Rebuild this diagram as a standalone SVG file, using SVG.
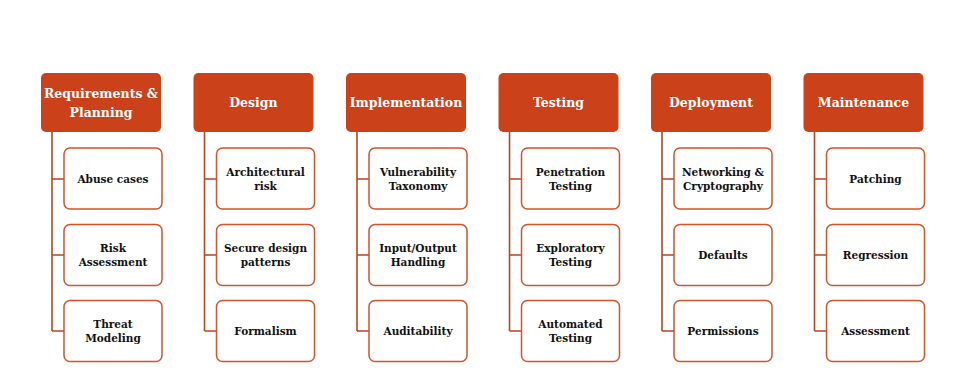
<svg xmlns="http://www.w3.org/2000/svg" width="980" height="391" viewBox="0 0 980 391">
  <defs>
    <style>
      .hdr { fill: #CB4119; }
      .hdr-t { fill: #FFFFFF; font-family: "DejaVu Serif", "Liberation Serif", serif; font-size: 12.5px; font-weight: bold; text-anchor: middle; }
      .item { fill: #FFFFFF; stroke: #D4532A; stroke-width: 1.5; }
      .item-t { fill: #111111; font-family: "DejaVu Serif", "Liberation Serif", serif; font-size: 10.5px; font-weight: bold; text-anchor: middle; }
      .wire { fill: none; stroke: #B94420; stroke-width: 1.6; }
    </style>
  </defs>
  <rect width="980" height="391" fill="#FFFFFF"/>

  <!-- connectors: spine down from each header, with a tick into each item -->
  <g id="connectors">
    <path class="wire" d="M52 132 V331 M52 179 H64 M52 255 H64 M52 331 H64"/>
    <path class="wire" d="M204.5 132 V331 M204.5 179 H216.5 M204.5 255 H216.5 M204.5 331 H216.5"/>
    <path class="wire" d="M357 132 V331 M357 179 H369 M357 255 H369 M357 331 H369"/>
    <path class="wire" d="M509.5 132 V331 M509.5 179 H521.5 M509.5 255 H521.5 M509.5 331 H521.5"/>
    <path class="wire" d="M662 132 V331 M662 179 H674 M662 255 H674 M662 331 H674"/>
    <path class="wire" d="M814.5 132 V331 M814.5 179 H826.5 M814.5 255 H826.5 M814.5 331 H826.5"/>
  </g>

  <!-- phase headers -->
  <g id="h-req"><rect class="hdr" x="41" y="73" width="120" height="59" rx="5"/>
    <text class="hdr-t" x="101" y="98">Requirements &amp;</text><text class="hdr-t" x="101" y="117">Planning</text></g>
  <g id="h-design"><rect class="hdr" x="193.5" y="73" width="120" height="59" rx="5"/>
    <text class="hdr-t" x="253.5" y="107">Design</text></g>
  <g id="h-impl"><rect class="hdr" x="346" y="73" width="120" height="59" rx="5"/>
    <text class="hdr-t" x="406" y="107">Implementation</text></g>
  <g id="h-test"><rect class="hdr" x="498.5" y="73" width="120" height="59" rx="5"/>
    <text class="hdr-t" x="558.5" y="107">Testing</text></g>
  <g id="h-deploy"><rect class="hdr" x="651" y="73" width="120" height="59" rx="5"/>
    <text class="hdr-t" x="711" y="107">Deployment</text></g>
  <g id="h-maint"><rect class="hdr" x="803.5" y="73" width="120" height="59" rx="5"/>
    <text class="hdr-t" x="863.5" y="107">Maintenance</text></g>

  <!-- Requirements & Planning items -->
  <g id="i-abuse"><rect class="item" x="64" y="148" width="98" height="61" rx="6"/>
    <text class="item-t" x="113" y="183">Abuse cases</text></g>
  <g id="i-risk"><rect class="item" x="64" y="224.5" width="98" height="61" rx="6"/>
    <text class="item-t" x="113" y="252">Risk</text><text class="item-t" x="113" y="266">Assessment</text></g>
  <g id="i-threat"><rect class="item" x="64" y="300.5" width="98" height="61" rx="6"/>
    <text class="item-t" x="113" y="328">Threat</text><text class="item-t" x="113" y="342">Modeling</text></g>

  <!-- Design items -->
  <g id="i-arch"><rect class="item" x="216.5" y="148" width="98" height="61" rx="6"/>
    <text class="item-t" x="265.5" y="176">Architectural</text><text class="item-t" x="265.5" y="190">risk</text></g>
  <g id="i-patterns"><rect class="item" x="216.5" y="224.5" width="98" height="61" rx="6"/>
    <text class="item-t" x="265.5" y="252">Secure design</text><text class="item-t" x="265.5" y="266">patterns</text></g>
  <g id="i-formal"><rect class="item" x="216.5" y="300.5" width="98" height="61" rx="6"/>
    <text class="item-t" x="265.5" y="335">Formalism</text></g>

  <!-- Implementation items -->
  <g id="i-vuln"><rect class="item" x="369" y="148" width="98" height="61" rx="6"/>
    <text class="item-t" x="418" y="176">Vulnerability</text><text class="item-t" x="418" y="190">Taxonomy</text></g>
  <g id="i-io"><rect class="item" x="369" y="224.5" width="98" height="61" rx="6"/>
    <text class="item-t" x="418" y="252">Input/Output</text><text class="item-t" x="418" y="266">Handling</text></g>
  <g id="i-audit"><rect class="item" x="369" y="300.5" width="98" height="61" rx="6"/>
    <text class="item-t" x="418" y="335">Auditability</text></g>

  <!-- Testing items -->
  <g id="i-pen"><rect class="item" x="521.5" y="148" width="98" height="61" rx="6"/>
    <text class="item-t" x="570.5" y="176">Penetration</text><text class="item-t" x="570.5" y="190">Testing</text></g>
  <g id="i-explore"><rect class="item" x="521.5" y="224.5" width="98" height="61" rx="6"/>
    <text class="item-t" x="570.5" y="252">Exploratory</text><text class="item-t" x="570.5" y="266">Testing</text></g>
  <g id="i-auto"><rect class="item" x="521.5" y="300.5" width="98" height="61" rx="6"/>
    <text class="item-t" x="570.5" y="328">Automated</text><text class="item-t" x="570.5" y="342">Testing</text></g>

  <!-- Deployment items -->
  <g id="i-net"><rect class="item" x="674" y="148" width="98" height="61" rx="6"/>
    <text class="item-t" x="723" y="176">Networking &amp;</text><text class="item-t" x="723" y="190">Cryptography</text></g>
  <g id="i-defaults"><rect class="item" x="674" y="224.5" width="98" height="61" rx="6"/>
    <text class="item-t" x="723" y="259">Defaults</text></g>
  <g id="i-perm"><rect class="item" x="674" y="300.5" width="98" height="61" rx="6"/>
    <text class="item-t" x="723" y="335">Permissions</text></g>

  <!-- Maintenance items -->
  <g id="i-patch"><rect class="item" x="826.5" y="148" width="98" height="61" rx="6"/>
    <text class="item-t" x="875.5" y="183">Patching</text></g>
  <g id="i-regress"><rect class="item" x="826.5" y="224.5" width="98" height="61" rx="6"/>
    <text class="item-t" x="875.5" y="259">Regression</text></g>
  <g id="i-assess"><rect class="item" x="826.5" y="300.5" width="98" height="61" rx="6"/>
    <text class="item-t" x="875.5" y="335">Assessment</text></g>
</svg>
